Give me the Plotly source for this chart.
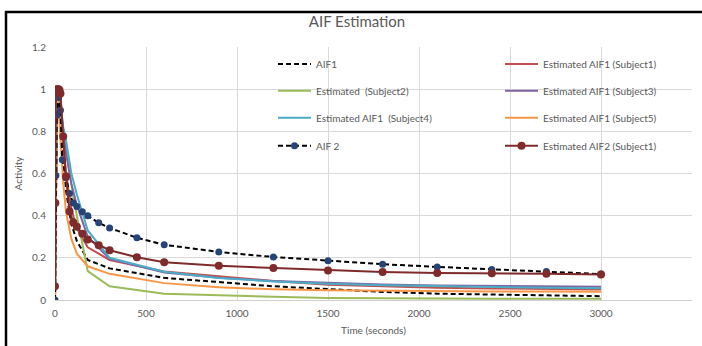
import plotly.graph_objects as go

# ---------------- data ----------------
t_common = [0, 5, 10, 15, 20, 30, 45, 60, 90, 120, 180, 300, 600, 900, 1200, 1500, 1800, 2100, 2400, 2700, 3000]
aif1 =     [0, 0.62, 0.95, 1.0, 0.97, 0.86, 0.68, 0.52, 0.36, 0.28, 0.19, 0.15, 0.105, 0.085, 0.065, 0.052, 0.038, 0.030, 0.025, 0.021, 0.018]
subj1 =    [0, 0.55, 0.96, 1.0, 0.98, 0.90, 0.75, 0.60, 0.43, 0.34, 0.25, 0.19, 0.135, 0.113, 0.090, 0.072, 0.064, 0.058, 0.055, 0.052, 0.050]
subj2 =    [0, 0.50, 0.93, 1.0, 0.98, 0.90, 0.80, 0.72, 0.55, 0.40, 0.137, 0.065, 0.030, 0.022, 0.015, 0.010, 0.008, 0.007, 0.006, 0.006, 0.006]
subj3 =    [0, 0.50, 0.95, 1.0, 0.98, 0.92, 0.80, 0.70, 0.55, 0.45, 0.30, 0.195, 0.130, 0.105, 0.090, 0.080, 0.073, 0.069, 0.066, 0.064, 0.063]
subj4 =    [0, 0.50, 0.95, 1.0, 0.98, 0.93, 0.82, 0.76, 0.60, 0.50, 0.33, 0.20, 0.134, 0.104, 0.088, 0.077, 0.070, 0.065, 0.061, 0.058, 0.056]
subj5 =    [0, 0.60, 0.97, 0.97, 0.92, 0.76, 0.56, 0.42, 0.29, 0.22, 0.16, 0.124, 0.080, 0.060, 0.051, 0.046, 0.043, 0.041, 0.040, 0.040, 0.039]

t_aif2 = [0, 5, 10, 20, 30, 40, 60, 80, 100, 120, 150, 180, 240, 300, 450, 600, 900, 1200, 1500, 1800, 2100, 2400, 2700, 3000]
aif2 =   [0, 0.59, 0.875, 0.96, 0.90, 0.665, 0.58, 0.505, 0.46, 0.443, 0.418, 0.40, 0.366, 0.342, 0.295, 0.262, 0.228, 0.204, 0.186, 0.170, 0.157, 0.145, 0.135, 0.123]

t_est2 = [0, 2, 5, 10, 15, 20, 25, 30, 45, 60, 80, 100, 120, 150, 180, 240, 300, 450, 600, 900, 1200, 1500, 1800, 2100, 2400, 2700, 3000]
est_aif2 = [0.065, 0.46, 0.99, 1.0, 1.0, 1.0, 0.995, 0.98, 0.776, 0.587, 0.42, 0.369, 0.347, 0.314, 0.287, 0.26, 0.236, 0.203, 0.179, 0.162, 0.152, 0.140, 0.133, 0.128, 0.127, 0.124, 0.121]

x_ticks = [0, 500, 1000, 1500, 2000, 2500, 3000, 3500]
y_ticks = [0, 0.2, 0.4, 0.6, 0.8, 1, 1.2]
y_ticktext = ["0", "0.2", "0.4", "0.6", "0.8", "1", "1.2"]

# ---------------- figure ----------------
FONT = "Lato, 'Open Sans', sans-serif"
TXT = "#595959"
W, H = 702, 346
PL, PR, PT, PB = 55, 10, 47, 46
ph = H - PT - PB
pw = W - PL - PR

def py(y_px):
    return (H - PB - y_px) / ph

def px(x_px):
    return (x_px - PL) / pw

fig = go.Figure()

def line_trace(x, y, name, color, legend, dash="solid", marker=None, width=2):
    kw = dict(x=x, y=y, name=name, legend=legend,
              line=dict(color=color, width=width, dash=dash))
    if marker:
        kw["mode"] = "lines+markers"
        kw["marker"] = marker
    else:
        kw["mode"] = "lines"
    fig.add_trace(go.Scatter(**kw))

line_trace(t_common, aif1, "AIF1", "#000000", "legend", dash="5px,3px")
line_trace(t_common, subj1, "Estimated AIF1 (Subject1)", "#C0504D", "legend2")
line_trace(t_common, subj2, "Estimated  (Subject2)", "#9BBB59", "legend3")
line_trace(t_common, subj3, "Estimated AIF1 (Subject3)", "#8064A2", "legend4")
line_trace(t_common, subj4, "Estimated AIF1  (Subject4)", "#4BACC6", "legend5")
line_trace(t_common, subj5, "Estimated AIF1 (Subject5)", "#F79646", "legend6")
line_trace(t_aif2, aif2, "AIF 2", "#000000", "legend7", dash="5px,3px",
           marker=dict(color="#264478", size=7))
line_trace(t_est2, est_aif2, "Estimated AIF2 (Subject1)", "#7F2B2B", "legend8",
           marker=dict(color="#7F2B2B", size=8))

rows = [64, 90.7, 117.7, 145.7]
cols = [273, 500]
leg_base = dict(orientation="v", xanchor="left", yanchor="middle",
                bgcolor="rgba(0,0,0,0)", borderwidth=0, itemwidth=33,
                font=dict(family=FONT, size=10, color=TXT), itemclick=False)
legends = {}
for i in range(8):
    key = "legend" if i == 0 else f"legend{i + 1}"
    legends[key] = dict(**leg_base, x=px(cols[i % 2]), y=py(rows[i // 2]))

# outer chart frame (left and top edges of the Excel chart border)
frame_path = "M{},{} L{},{} L{},{}".format(px(6), py(346), px(6), py(12), px(702), py(12))
fig.update_layout(
    width=W, height=H,
    margin=dict(l=PL, r=PR, t=PT, b=PB),
    paper_bgcolor="white", plot_bgcolor="white",
    font=dict(family=FONT, size=10, color=TXT),
    title=dict(text="AIF Estimation", x=357 / W, xref="container", xanchor="center",
               y=1 - 22 / H, yanchor="middle",
               font=dict(family=FONT, size=15, color=TXT)),
    showlegend=True,
    shapes=[dict(type="path", xref="paper", yref="paper", path=frame_path,
                 line=dict(color="black", width=2.5), fillcolor="rgba(0,0,0,0)",
                 layer="above")],
    **legends,
)

fig.update_xaxes(range=[0, 3500], tickvals=x_ticks, ticktext=[str(v) for v in x_ticks],
                 showgrid=True, gridcolor="#D9D9D9", gridwidth=1,
                 showline=True, linecolor="#D0D0D0", linewidth=1, mirror=False,
                 zeroline=False, ticks="", ticklabelstandoff=4,
                 tickfont=dict(family=FONT, size=10, color=TXT),
                 title=dict(text="Time (seconds)", standoff=8,
                            font=dict(family=FONT, size=10, color=TXT)))
fig.update_yaxes(range=[0, 1.2], tickvals=y_ticks, ticktext=y_ticktext,
                 showgrid=True, gridcolor="#D9D9D9", gridwidth=1,
                 zeroline=False, showline=False, ticks="", ticklabelstandoff=8,
                 tickfont=dict(family=FONT, size=10, color=TXT),
                 title=dict(text="Activity", standoff=7,
                            font=dict(family=FONT, size=10, color=TXT)))

fig.write_html("out.html", config={"displayModeBar": False},
               post_script=("document.documentElement.style.overflow='hidden';"
                            "document.body.style.margin='0';"
                            "document.body.style.overflow='hidden';"))
